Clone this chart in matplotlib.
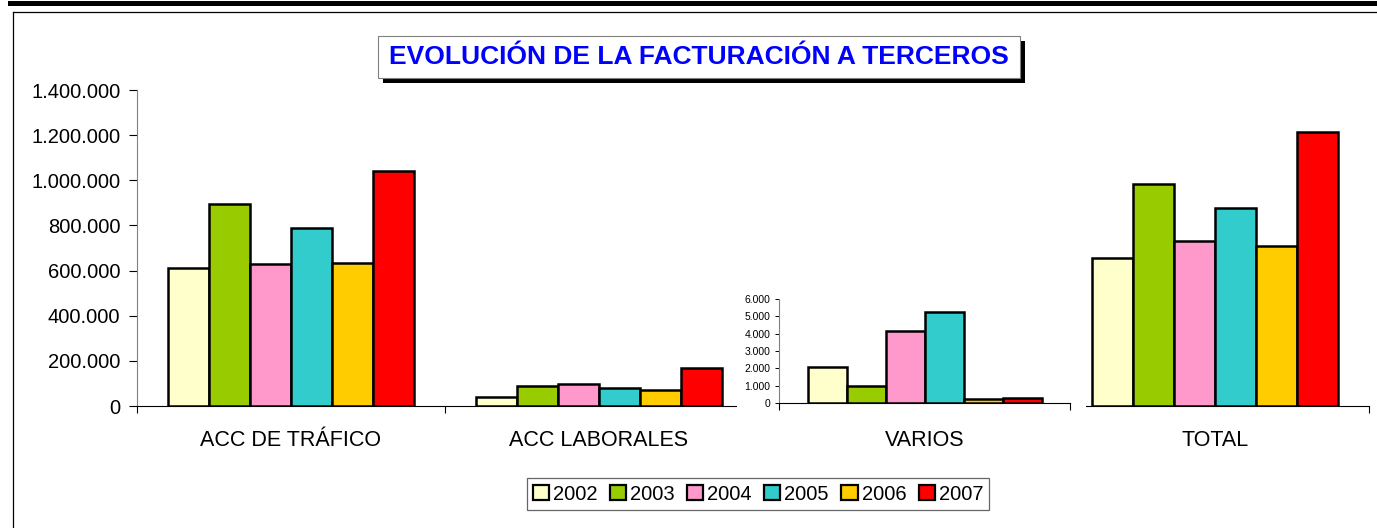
import matplotlib
matplotlib.use("Agg")
import matplotlib.pyplot as plt
from matplotlib.patches import Rectangle
from matplotlib.lines import Line2D
from matplotlib.ticker import FuncFormatter, MultipleLocator

plt.rcParams['font.family'] = ['Liberation Sans', 'DejaVu Sans']

# data
years = ["2002", "2003", "2004", "2005", "2006", "2007"]
colors = ["#FFFFCC", "#99CC00", "#FF99CC", "#33CCCC", "#FFCC00", "#FF0000"]
categories = ["ACC DE TRÁFICO", "ACC LABORALES", "VARIOS", "TOTAL"]
acc_trafico = [613000, 894000, 630000, 787000, 635000, 1042000]
acc_laborales = [40000, 87000, 96000, 81000, 71000, 170000]
varios = [2050, 1000, 4170, 5230, 250, 280]
total = [657000, 982000, 731000, 876000, 709000, 1212000]

W, H = 1377, 528
fig = plt.figure(figsize=(W / 100, H / 100), dpi=100)


def fx(px):
    return px / W


def fy(py):
    return 1 - py / H


def thousands(v, pos):
    return f"{int(round(v)):,}".replace(",", ".")


# outer frame
fig.add_artist(Line2D([fx(10), 1], [fy(2.5), fy(2.5)], color="black", lw=3.6))
fig.add_artist(Line2D([fx(12.5), 1], [fy(11.5), fy(11.5)], color="black", lw=0.9))
fig.add_artist(Line2D([fx(12.5), fx(12.5)], [fy(11.5), 0], color="black", lw=0.9))

# main axes
ax = fig.add_axes([fx(137), fy(406), fx(1369 - 137), (406 - 90) / H])
ax.set_xlim(0, 4)
ax.set_ylim(0, 1400000)
for s in ["top", "right"]:
    ax.spines[s].set_visible(False)
ax.spines["left"].set_color("#808080")
ax.spines["bottom"].set_color("black")
ax.yaxis.set_major_locator(MultipleLocator(200000))
ax.yaxis.set_major_formatter(FuncFormatter(thousands))
ax.tick_params(axis="y", direction="out", length=6, width=0.8, labelsize=14.5, pad=6)
ax.set_xticks([0, 1, 2, 3, 4])
ax.set_xticklabels([])
ax.tick_params(axis="x", which="major", direction="out", length=5, width=0.8)
ax.set_xticks([0.5, 1.5, (924.5 - 137) / 308, 3.5], minor=True)
ax.set_xticklabels(categories, minor=True)
ax.tick_params(axis="x", which="minor", length=0, labelsize=15.5, pad=17)

bw = 41 / 308
for gi, vals in [(0, acc_trafico), (1, acc_laborales), (3, total)]:
    for i, v in enumerate(vals):
        ax.bar(gi + 0.5 + (i - 2.5) * bw, v, width=bw, color=colors[i],
               edgecolor="black", linewidth=1.8, zorder=3)

# white background behind the VARIOS inset
fig.add_artist(Rectangle((fx(737), fy(418)), fx(1086 - 737), (418 - 286) / H,
                         transform=fig.transFigure, facecolor="white",
                         edgecolor="none", zorder=1))

# VARIOS inset with its own scale
axv = fig.add_axes([fx(779), fy(403), fx(1070 - 779), (403 - 299) / H], zorder=2)
axv.set_xlim(0, 1)
axv.set_ylim(0, 6000)
axv.patch.set_alpha(0)
for s in ["top", "right"]:
    axv.spines[s].set_visible(False)
axv.spines["left"].set_color("#808080")
axv.spines["bottom"].set_color("black")
axv.yaxis.set_major_locator(MultipleLocator(1000))
axv.yaxis.set_major_formatter(FuncFormatter(thousands))
axv.tick_params(axis="y", direction="out", length=3, width=0.7, labelsize=7.5, pad=3)
axv.set_xticks([0, 1])
axv.set_xticklabels([])
axv.tick_params(axis="x", direction="out", length=5, width=0.8)
vw = 39 / 291
for i, v in enumerate(varios):
    axv.bar(0.5 + (i - 2.5) * vw, v, width=vw, color=colors[i],
            edgecolor="black", linewidth=1.8, zorder=3)

# title box with shadow
fig.add_artist(Rectangle((fx(383), fy(83)), fx(1025 - 383), (83 - 41) / H,
                         transform=fig.transFigure, facecolor="black",
                         edgecolor="none", zorder=3))
fig.add_artist(Rectangle((fx(378), fy(78)), fx(1020 - 378), (78 - 36) / H,
                         transform=fig.transFigure, facecolor="white",
                         edgecolor="#808080", linewidth=0.8, zorder=4))
fig.text(fx(699), fy(57), "EVOLUCIÓN DE LA FACTURACIÓN A TERCEROS",
         ha="center", va="center", color="#0000FF", fontsize=19,
         fontweight="bold", zorder=5)

# legend
handles = [Rectangle((0, 0), 1, 1, facecolor=c, edgecolor="black", linewidth=1.6)
           for c in colors]
leg = fig.legend(handles, years, loc="center", bbox_to_anchor=(fx(758), fy(494)),
                 ncol=6, fontsize=14.5, frameon=True, fancybox=False,
                 handlelength=0.8, handleheight=0.8, handletextpad=0.2,
                 columnspacing=0.62, borderpad=0.3, borderaxespad=0)
leg.get_frame().set_edgecolor("#404040")
leg.get_frame().set_linewidth(0.9)

fig.savefig("out.png", dpi=100)
